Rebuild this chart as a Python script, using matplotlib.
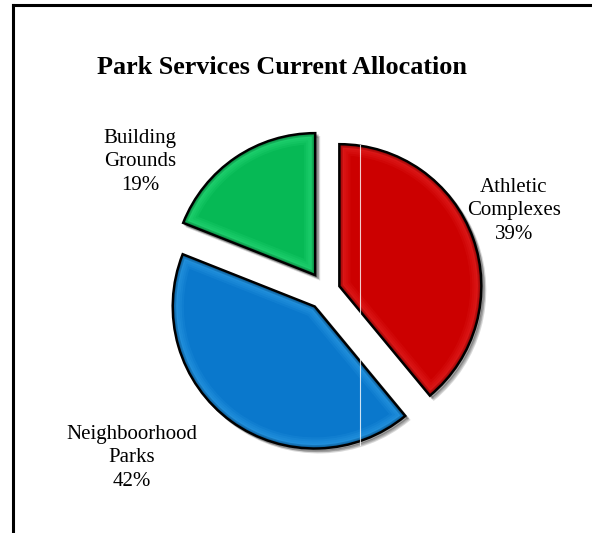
import matplotlib.pyplot as plt
from matplotlib.patches import Wedge
from matplotlib.lines import Line2D
import matplotlib.colors as mcolors

plt.rcParams['font.family'] = ['Liberation Serif', 'DejaVu Serif']

# data
labels = ['Athletic\nComplexes', 'Neighboorhood\nParks', 'Building\nGrounds']
values = [39, 42, 19]
colors = ['#cc0000', '#0a78cc', '#06b955']
explode = [0.10, 0.135, 0.135]

# layout (pixels of the 592x533 image, y from top)
W, H = 592, 533
R = 142.0
cx, cy = 326, 291
label_xy = [(514, 211), (132, 458), (140, 162)]


def to_data(px, py):
    return (px - cx) / R, (H - py - (H - cy)) / R


fig = plt.figure(figsize=(W / 100, H / 100), dpi=100)
ax = fig.add_axes([0, 0, 1, 1])

wedges, _ = ax.pie(values, colors=colors, startangle=90, counterclock=False,
                   explode=explode, radius=1,
                   wedgeprops=dict(edgecolor='none', linewidth=0))

ax.set_xlim(-cx / R, (W - cx) / R)
ax.set_ylim(-(H - cy) / R, cy / R)
ax.set_aspect('auto')
ax.axis('off')

sh = 3 / R
for w, c in zip(wedges, colors):
    w.set_zorder(3)
    # drop shadow
    for k, a in [(1.3, 0.2), (0.8, 0.35)]:
        s = Wedge((w.center[0] + sh * k, w.center[1] - sh * k), w.r, w.theta1, w.theta2,
                  facecolor='#444444', edgecolor='#444444', lw=1.5, alpha=a, zorder=2)
        ax.add_patch(s)
    # soft bevel: stacked translucent strokes clipped to the slice
    light = tuple(min(1, v + 0.3) for v in mcolors.to_rgb(c))
    dark = tuple(v * 0.6 for v in mcolors.to_rgb(c))
    for lw in [16, 13, 10, 7]:
        b = Wedge(w.center, w.r, w.theta1, w.theta2, fill=False,
                  edgecolor=light, lw=lw, alpha=0.09, zorder=4)
        ax.add_patch(b)
        b.set_clip_path(w)
    for lw in [5, 3]:
        d = Wedge(w.center, w.r, w.theta1, w.theta2, fill=False,
                  edgecolor=dark, lw=lw, alpha=0.35, zorder=4)
        ax.add_patch(d)
        d.set_clip_path(w)
    e = Wedge(w.center, w.r, w.theta1, w.theta2, fill=False,
              edgecolor='black', lw=1.8, zorder=5)
    ax.add_patch(e)

# faint white artifact line
x0, y0 = to_data(360, 145)
x1, y1 = to_data(360, 445)
ax.plot([x0, x1], [y0, y1], color='white', lw=0.8, alpha=0.8, zorder=6)

for lab, v, (px, py) in zip(labels, values, label_xy):
    tx, ty = to_data(px, py)
    ax.text(tx, ty, f'{lab}\n{v}%', ha='center', va='center', fontsize=15,
            linespacing=1.32, color='black')

fig.text(282 / W, 1 - 68 / H, 'Park Services Current Allocation', ha='center',
         va='center', fontsize=18.8, fontweight='bold')

# frame
fig.add_artist(Line2D([13 / W, 13 / W], [0, 1 - 5 / H], color='black', lw=2.2))
fig.add_artist(Line2D([13 / W, 1], [1 - 5 / H, 1 - 5 / H], color='black', lw=2.2))

fig.savefig('out.png', dpi=100, facecolor='white')
